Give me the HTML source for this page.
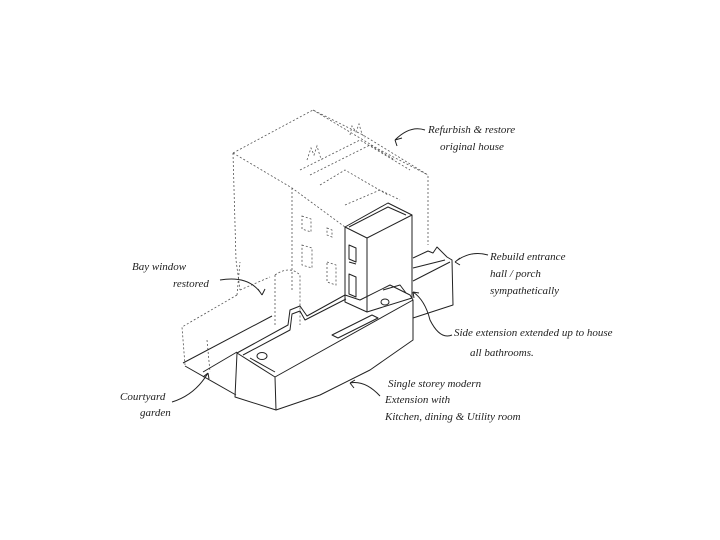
<!DOCTYPE html>
<html><head><style>
html,body{margin:0;padding:0;background:#fff;}
svg{display:block}
text{font-family:"Liberation Serif",serif;font-style:italic;fill:#222;font-size:11px}
</style></head><body>
<svg width="720" height="540" viewBox="0 0 720 540" xmlns="http://www.w3.org/2000/svg">
<g fill="none" stroke="#555" stroke-width="0.8" stroke-dasharray="2,2">
<!-- main house dotted -->
<path d="M233,153 L313,110 L363,135 L428,175 L428,245"/>
<path d="M233,153 L236,260 L240,290"/>
<path d="M233,153 L292,188 L345,227"/>
<path d="M292,188 L292,290"/>
<path d="M313,110 L380,150 L428,175"/>
<path d="M300,170 L360,140 L410,170"/>
<path d="M310,175 L370,145 L395,160"/>
<path d="M320,185 L345,170 L388,195"/>
<path d="M345,205 L380,190 L400,200"/>
<path d="M307,160 L311,148 L314,155 L317,146 L320,156 L322,160"/>
<path d="M350,135 L352,126 L356,132 L359,124 L362,134 L365,138"/>
<!-- windows -->
<path d="M302,216 L311,219 L311,232 L302,229 Z"/>
<path d="M327,228 L332,230 L332,237 L327,235 Z"/>
<path d="M302,245 L312,248 L312,268 L302,265 Z"/>
<path d="M327,262 L336,265 L336,285 L327,282 Z"/>
<!-- bay window -->
<path d="M275,275 Q290,265 300,275 L300,325 M275,275 L275,325"/>
<!-- left wing -->
<path d="M237,295 L182,327 L185,365"/>
<path d="M240,290 L270,277"/>
<path d="M207,340 L210,372"/>
<path d="M237,295 L240,262"/>
</g>
<g fill="none" stroke="#222" stroke-width="1" stroke-linejoin="round">
<!-- ground/courtyard -->
<path d="M183,363 L272,316"/>
<path d="M185,366 L236,395"/>
<path d="M203,372 L237,352"/>
<!-- extension -->
<path d="M237,353 L288,325 L290,310 L300,306 L307,316 L345,295 L360,300 L390,285 L410,295 L413,300 L275,377 Z"/>
<path d="M243,355 L290,330 L292,314 L300,311 L305,320 L346,299 M250,358 L275,372"/>
<path d="M237,353 L235,397 L276,410 L275,377"/>
<path d="M276,410 L320,395 L370,370 L413,340 L413,300"/>
<ellipse cx="262" cy="356" rx="5" ry="3.5"/>
<ellipse cx="385" cy="302" rx="4" ry="3"/>
<path d="M332,335 L372,315 L378,318 L338,338 Z"/>
<path d="M383,290 L400,285 L406,293"/>
<!-- tall block -->
<path d="M345,227 L388,203 L412,215 L367,238 Z"/>
<path d="M349,227 L388,207 L406,215"/>
<path d="M345,227 L345,302 L367,312 L367,238"/>
<path d="M367,312 L412,298 L412,215"/>
<path d="M349,245 L356,248 L356,262 L349,259 Z M349,262 L356,264"/>
<path d="M349,274 L356,277 L356,297 L349,294 Z M349,294 L356,297"/>
<!-- side porch -->
<path d="M413,258 L428,251 L433,253 L437,247 L447,257 L452,260 L453,305 L413,318"/>
<path d="M413,268 L445,260 M450,262 L413,281"/>
<!-- leader lines -->
<path d="M425,130 Q410,125 395,140 M395,140 L402,138 M395,140 L397,146"/>
<path d="M488,255 Q470,250 455,262 M455,262 L460,258 M455,262 L460,265"/>
<path d="M220,280 Q250,275 262,295 M262,295 L258,289 M262,295 L265,289"/>
<path d="M452,335 Q440,340 430,320 Q425,300 413,292 M413,292 L414,298 M413,292 L419,293"/>
<path d="M380,396 Q365,380 350,383 M350,383 L355,380 M350,383 L354,388"/>
<path d="M172,402 Q195,395 208,373 M208,373 L203,377 M208,373 L209,379"/>
</g>
<text x="428" y="133">Refurbish &amp; restore</text>
<text x="440" y="150">original house</text>
<text x="490" y="260">Rebuild entrance</text>
<text x="490" y="277">hall / porch</text>
<text x="490" y="294">sympathetically</text>
<text x="132" y="270">Bay window</text>
<text x="173" y="287">restored</text>
<text x="454" y="336">Side extension extended up to house</text>
<text x="470" y="356">all bathrooms.</text>
<text x="388" y="387">Single storey modern</text>
<text x="385" y="403">Extension with</text>
<text x="385" y="420">Kitchen, dining &amp; Utility room</text>
<text x="120" y="400">Courtyard</text>
<text x="140" y="416">garden</text>
</svg>
</body></html>
